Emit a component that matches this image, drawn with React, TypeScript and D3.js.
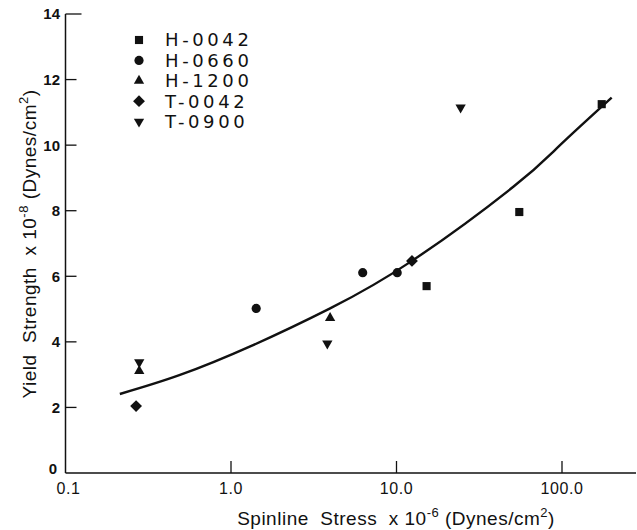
import React from "react";
import * as d3 from "d3";

// ---- data ----
const seriesNames = ["H-0042", "H-0660", "H-1200", "T-0042", "T-0900"];
const h0042X = [15.2, 55.2, 173.8];
const h0042Y = [5.7, 7.96, 11.25];
const h0660X = [1.42, 6.25, 10.1];
const h0660Y = [5.02, 6.11, 6.11];
const h1200X = [0.279, 3.97];
const h1200Y = [3.11, 4.73];
const t0042X = [0.267, 12.4];
const t0042Y = [2.04, 6.47];
const t0900X = [0.279, 3.82, 24.4];
const t0900Y = [3.38, 3.95, 11.15];

const curveX = [0.213, 0.492, 1.36, 3.97, 12.4, 50.8, 97.3, 199.6];
const curveY = [2.41, 2.99, 3.9, 5.02, 6.47, 8.73, 10.0, 11.45];

const xTicks = [0.1, 1, 10, 100];
const xTickLabels = ["0.1", "1.0", "10.0", "100.0"];
const yTicks = [2, 4, 6, 8, 10, 12, 14];
const yTickLabels = ["2", "4", "6", "8", "10", "12", "14"];

const W = 637;
const H = 530;

const xScale = d3.scaleLog().domain([0.1, 280]).range([65.5, 636]);
const yScale = d3.scaleLinear().domain([0, 14]).range([473, 14]);

const sq = d3.symbol().type(d3.symbolSquare).size(66)() as string;
const circ = d3.symbol().type(d3.symbolCircle).size(66)() as string;
const tri = d3.symbol().type(d3.symbolTriangle).size(46)() as string;
const diam = d3.symbol().type(d3.symbolSquare).size(70)() as string;

type Shape = { path: string; rot: number };
const shapes: Shape[] = [
  { path: sq, rot: 0 },
  { path: circ, rot: 0 },
  { path: tri, rot: 0 },
  { path: diam, rot: 45 },
  { path: tri, rot: 180 },
];
const seriesX = [h0042X, h0660X, h1200X, t0042X, t0900X];
const seriesY = [h0042Y, h0660Y, h1200Y, t0042Y, t0900Y];

const font = "'Liberation Sans', Arial, Helvetica, sans-serif";
const ink = "#111";

export default function App() {
  const line = d3
    .line<number>()
    .x((_, i) => xScale(curveX[i]))
    .y((_, i) => yScale(curveY[i]))
    .curve(d3.curveNatural);
  const curvePath = line(curveX) as string;

  const x0 = xScale(0.1);
  const y0 = yScale(0);

  return (
    <svg
      width={W}
      height={H}
      style={{ position: "absolute", left: 0, top: 0, background: "#fff" }}
      fontFamily={font}
    >
      {/* axes */}
      <line x1={x0} y1={yScale(14)} x2={x0} y2={y0} stroke={ink} strokeWidth={1.5} />
      <line x1={x0} y1={y0} x2={636} y2={y0} stroke={ink} strokeWidth={1.5} />

      {/* y ticks */}
      {yTicks.map((t, i) => (
        <g key={"yt" + i}>
          <line
            x1={x0}
            x2={x0 + (t === 14 ? 16 : 11)}
            y1={yScale(t)}
            y2={yScale(t)}
            stroke={ink}
            strokeWidth={1.3}
          />
          <text
            x={60}
            y={yScale(t)}
            dy="0.36em"
            textAnchor="end"
            fontSize={15}
            fontWeight="bold"
            fill={ink}
          >
            {yTickLabels[i]}
          </text>
        </g>
      ))}
      <text x={57} y={469} dy="0.36em" textAnchor="end" fontSize={15} fontWeight="bold" fill={ink}>
        0
      </text>

      {/* x ticks */}
      {xTicks.map((t, i) => (
        <g key={"xt" + i}>
          {t !== 0.1 && (
            <line
              x1={xScale(t)}
              x2={xScale(t)}
              y1={y0}
              y2={y0 - 12}
              stroke={ink}
              strokeWidth={1.3}
            />
          )}
          <text
            x={xScale(t) + (t === 0.1 ? 3 : 0)}
            y={494}
            textAnchor="middle"
            fontSize={16}
            letterSpacing={0.6}
            fill={ink}
          >
            {xTickLabels[i]}
          </text>
        </g>
      ))}

      {/* fitted curve */}
      <path d={curvePath} fill="none" stroke={ink} strokeWidth={2.4} />

      {/* data points */}
      {seriesX.map((xs, si) =>
        xs.map((xv, j) => (
          <path
            key={"p" + si + "-" + j}
            d={shapes[si].path}
            transform={`translate(${xScale(xv)},${yScale(seriesY[si][j])}) rotate(${shapes[si].rot})`}
            fill={ink}
          />
        ))
      )}

      {/* legend */}
      {seriesNames.map((name, i) => (
        <g key={"lg" + i} transform={`translate(139,${40 + i * 20.4})`}>
          <path d={shapes[i].path} transform={`rotate(${shapes[i].rot})`} fill={ink} />
          <text
            x={26}
            y={0}
            dy="0.36em"
            fontSize={18}
            letterSpacing={3.6}
            fontFamily="'DejaVu Sans', sans-serif"
            fill={ink}
          >
            {name}
          </text>
        </g>
      ))}

      {/* axis titles */}
      <text
        transform="translate(36,244) rotate(-90)"
        textAnchor="middle"
        fontSize={19}
        letterSpacing={0.5}
        fill={ink}
        style={{ whiteSpace: "pre" }}
      >
        {"Yield  Strength  x 10"}
        <tspan dy={-8} fontSize={13}>
          -8
        </tspan>
        <tspan dy={8}>{" (Dynes/cm"}</tspan>
        <tspan dy={-8} fontSize={13}>
          2
        </tspan>
        <tspan dy={8}>)</tspan>
      </text>
      <text
        x={396}
        y={525}
        textAnchor="middle"
        fontSize={19}
        letterSpacing={0.5}
        fill={ink}
        style={{ whiteSpace: "pre" }}
      >
        {"Spinline  Stress  x 10"}
        <tspan dy={-8} fontSize={13}>
          -6
        </tspan>
        <tspan dy={8}>{" (Dynes/cm"}</tspan>
        <tspan dy={-8} fontSize={13}>
          2
        </tspan>
        <tspan dy={8}>)</tspan>
      </text>
    </svg>
  );
}
